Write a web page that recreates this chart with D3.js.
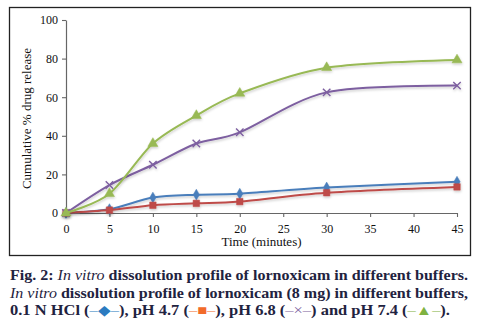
<!DOCTYPE html>
<html>
<head>
<meta charset="utf-8">
<script src="https://cdn.jsdelivr.net/npm/d3@7"></script>
<style>
  html, body { margin: 0; padding: 0; background: #fff; }
  svg { display: block; }
</style>
</head>
<body>
<svg id="chart" width="478" height="321"></svg>
<script>
// Sampling times (minutes)
const times = [0, 5, 10, 15, 20, 30, 45];

// Cumulative % drug release per buffer
const hcl01N = [0, 2, 8, 9.5, 10, 13.2, 16.2];
const ph47 = [0, 1.5, 4, 5, 5.9, 10.5, 13.5];
const ph68 = [0, 14.5, 25, 36, 41.8, 62.5, 66];
const ph74 = [0, 10, 36, 50.5, 62, 75.3, 79.3];

const xTicks = [0, 5, 10, 15, 20, 25, 30, 35, 40, 45];
const yTicks = [0, 20, 40, 60, 80, 100];

const seriesNames = ["0.1 N HCl", "pH 4.7", "pH 6.8", "pH 7.4"];

const svg = d3.select("#chart");
const serif = "'Liberation Serif', 'Times New Roman', serif";

// Outer frame
svg.append("rect")
  .attr("x", 9.5).attr("y", 7.5)
  .attr("width", 461).attr("height", 248)
  .attr("fill", "none").attr("stroke", "#222").attr("stroke-width", 1.3);

const x = d3.scaleLinear().domain([0, 45]).range([66, 457]);
const y = d3.scaleLinear().domain([0, 100]).range([213, 20]);

// Soft shadow under the lines
const defs = svg.append("defs");
const f = defs.append("filter").attr("id", "shadow")
  .attr("x", "-10%").attr("y", "-10%").attr("width", "120%").attr("height", "130%");
f.append("feDropShadow").attr("dx", 0.5).attr("dy", 1.5)
  .attr("stdDeviation", 1).attr("flood-color", "#000").attr("flood-opacity", 0.2);

// Axes
const xAxis = svg.append("g")
  .attr("transform", `translate(0,${y(0)})`)
  .call(d3.axisBottom(x).tickValues(xTicks).tickSize(4).tickPadding(7).tickSizeOuter(0));
const yAxis = svg.append("g")
  .attr("transform", `translate(${x(0)},0)`)
  .call(d3.axisLeft(y).tickValues(yTicks).tickSize(4).tickPadding(4).tickSizeOuter(0));

[xAxis, yAxis].forEach(a => {
  a.select(".domain").attr("stroke", "#666").attr("stroke-width", 1.2);
  a.selectAll(".tick line").attr("stroke", "#666").attr("stroke-width", 1.1);
  a.selectAll(".tick text")
    .attr("font-family", serif).attr("font-size", 12).attr("fill", "#111");
});

// Axis titles
svg.append("text")
  .attr("x", x(22.5)).attr("y", 246)
  .attr("text-anchor", "middle")
  .attr("font-family", serif).attr("font-size", 13).attr("fill", "#111")
  .text("Time (minutes)");
svg.append("text")
  .attr("transform", `translate(31,${y(50) + 2}) rotate(-90)`)
  .attr("text-anchor", "middle")
  .attr("font-family", serif).attr("font-size", 13).attr("fill", "#111")
  .text("Cumulative % drug release");

// Series
const series = [
  { name: seriesNames[0], values: hcl01N, color: "#4a7ebb", marker: "diamond" },
  { name: seriesNames[1], values: ph47, color: "#be4b48", marker: "square" },
  { name: seriesNames[2], values: ph68, color: "#7d5fa0", marker: "cross" },
  { name: seriesNames[3], values: ph74, color: "#98b954", marker: "triangle" }
];

const line = d3.line()
  .x((d, i) => x(times[i]))
  .y(d => y(d))
  .curve(d3.curveCardinal.tension(0.1));

const symbolFor = {
  diamond: d3.symbol().type(d3.symbolDiamond).size(34),
  square: d3.symbol().type(d3.symbolSquare).size(42),
  cross: d3.symbol().type(d3.symbolTimes).size(38),
  triangle: d3.symbol().type(d3.symbolTriangle).size(44)
};

series.forEach(s => {
  const g = svg.append("g").attr("filter", "url(#shadow)");
  g.append("path")
    .datum(s.values)
    .attr("d", line)
    .attr("fill", "none")
    .attr("stroke", s.color)
    .attr("stroke-width", 2);
  g.selectAll("path.m")
    .data(s.values)
    .join("path")
    .attr("class", "m")
    .attr("transform", (d, i) => `translate(${x(times[i])},${y(d)})`)
    .attr("d", symbolFor[s.marker])
    .attr("fill", s.marker === "cross" ? "none" : s.color)
    .attr("stroke", s.color)
    .attr("stroke-width", s.marker === "cross" ? 1.4 : 0.5);
});

// Figure caption
const navy = "#1f2340";
const capFont = "'Liberation Serif', 'Times New Roman', serif";
const cap = svg.append("g")
  .attr("font-family", capFont).attr("font-weight", "bold")
  .attr("font-size", 14).attr("fill", navy);

const l1 = cap.append("text").attr("x", 10).attr("y", 280)
  .attr("textLength", 458).attr("lengthAdjust", "spacingAndGlyphs");
l1.append("tspan").text("Fig. 2: ");
l1.append("tspan").attr("font-style", "italic").attr("font-weight", "normal").text("In vitro");
l1.append("tspan").text(" dissolution profile of lornoxicam in different buffers.");

const l2 = cap.append("text").attr("x", 10).attr("y", 297.5)
  .attr("textLength", 458).attr("lengthAdjust", "spacingAndGlyphs");
l2.append("tspan").attr("font-style", "italic").attr("font-weight", "normal").text("In vitro");
l2.append("tspan").text(" dissolution profile of lornoxicam (8 mg) in different buffers,");

const l3 = cap.append("text").attr("x", 10).attr("y", 315)
  .attr("textLength", 440).attr("lengthAdjust", "spacingAndGlyphs");
l3.append("tspan").text("0.1 N HCl (");
l3.append("tspan").attr("fill", "#2b7bc0").attr("font-weight", "normal").text("–◆–");
l3.append("tspan").text("), pH 4.7 (");
l3.append("tspan").attr("fill", "#f26b2a").attr("font-weight", "normal").text("‒■‒");
l3.append("tspan").text("), pH 6.8 (");
l3.append("tspan").attr("fill", "#7d5fa0").attr("font-weight", "normal").text("–×–");
l3.append("tspan").text(") and pH 7.4 (");
l3.append("tspan").attr("fill", "#7fb241").attr("font-weight", "normal").text("–▲–");
l3.append("tspan").text(").");
</script>
</body>
</html>
